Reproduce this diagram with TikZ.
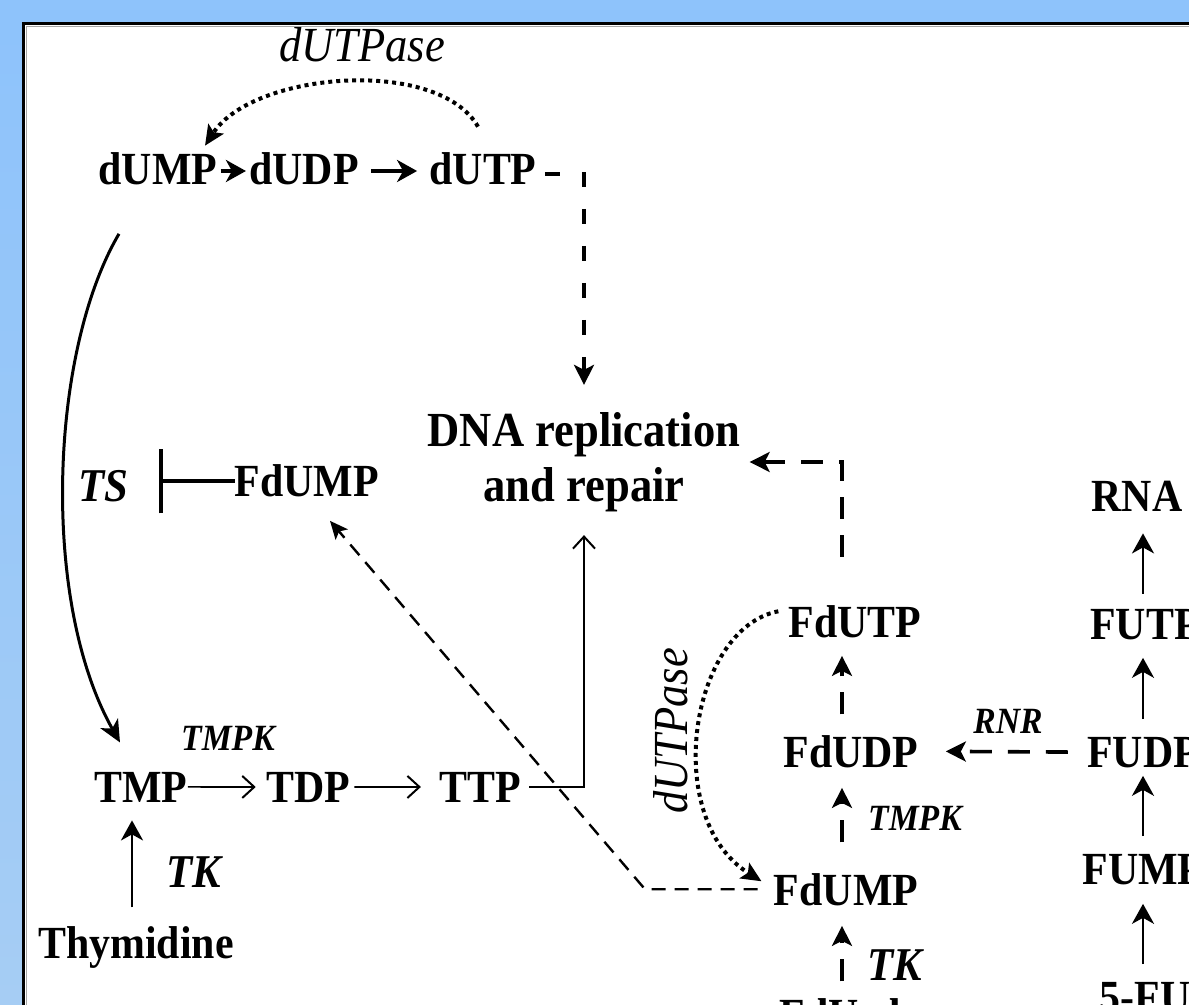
\documentclass[tikz,border=0pt]{standalone}
\usepackage{fontspec}
\setmainfont{Liberation Serif}[FakeStretch=0.91]
\usetikzlibrary{arrows.meta}
\definecolor{bgblue}{RGB}{142,195,251}
\definecolor{bgblueb}{RGB}{166,205,244}
\begin{document}
\begin{tikzpicture}[x=0.5pt,y=-0.5pt,
  lab/.style={font=\fontsize{23}{23}\selectfont\bfseries,inner sep=0pt,anchor=base},
  enz/.style={font=\fontsize{18.5}{18.5}\selectfont\bfseries\itshape,inner sep=0pt,anchor=base},
  enzb/.style={font=\fontsize{23.5}{23.5}\selectfont\bfseries\itshape,inner sep=0pt,anchor=base},
  ase/.style={font=\fontsize{24.5}{24.5}\selectfont\itshape,inner sep=0pt,anchor=base},
  uparr/.style={line width=1.4pt,-{Stealth[length=10pt,width=11pt,inset=3pt]}},
  thinarr/.style={line width=0.8pt,-{Straight Barb[length=6pt,width=11pt,line width=1pt]}},
  dsh/.style={line width=1.8pt,dash pattern=on 11pt off 8pt,-{Stealth[length=10pt,width=10pt,inset=2.5pt]}},
  dotarr/.style={line width=2pt,dash pattern=on 2pt off 2pt,-{Stealth[length=10pt,width=9pt,inset=2pt]}},
  fine/.style={line width=1.2pt,dash pattern=on 7pt off 4.5pt,-{Stealth[length=9pt,width=8pt,inset=2pt]}},
  rowarr/.style={line width=2pt,-{Stealth[length=10pt,width=11pt,inset=3pt]}},
  inhib/.style={line width=2pt,-{Bar[width=32pt]}}
]
\useasboundingbox (0,0) rectangle (1189,1005);
\clip (0,0) rectangle (1189,1005);
% background frame
\fill[bgblue] (0,0) rectangle (1189,1005);
\shade[top color=bgblue,bottom color=bgblueb] (0,24) rectangle (24,1005);
\fill[white] (24,24) rectangle (1200,1010);
\draw[gray!70,line width=0.6pt] (26.5,1010) -- (26.5,26.5) -- (1200,26.5);
\draw[line width=1.2pt] (23.5,1010) -- (23.5,23.5) -- (1200,23.5);

% nodes
\node[ase] (ase1) at (362,62) {dUTPase};
\node[lab] (dUMP) at (158,185) {dUMP};
\node[lab] (dUDP) at (304,185) {dUDP};
\node[lab] (dUTP) at (483,185) {dUTP};
\node[font=\fontsize{24.5}{27.5}\selectfont\bfseries,align=center,inner sep=0pt] (DNA) at (584,462) {DNA replication\\and repair};
\node[enzb] (TS) at (103,502) {TS};
\node[lab] (FdUMPl) at (307,497) {FdUMP};
\coordinate (TSbar) at (159,480);
\node[enz] (TMPK1) at (228,750) {TMPK};
\node[lab] (TMP) at (141,802) {TMP};
\node[lab] (TDP) at (308,802) {TDP};
\node[lab] (TTP) at (480,802) {TTP};
\node[enzb] (TK1) at (194,887) {TK};
\node[lab] (Thy) at (136,958) {Thymidine};
\node[lab] (FdUTP) at (855,637) {FdUTP};
\node[lab] (FdUDP) at (851,767) {FdUDP};
\node[lab] (FdUMPr) at (846,905) {FdUMP};
\node[lab] (FdUrd) at (840,1030) {FdUrd};
\node[enz] (TMPK2) at (915,830) {TMPK};
\node[enzb] (TK2) at (895,980) {TK};
\node[ase,rotate=90,anchor=center] (ase2) at (671,731) {dUTPase};
\node[enz] (RNR) at (1008,733) {RNR};
\node[lab] (RNA) at (1137,512) {RNA};
\node[lab] (FUTP) at (1145,639) {FUTP};
\node[lab] (FUDP) at (1143,767) {FUDP};
\node[lab] (FUMP) at (1143,884) {FUMP};
\node[lab] (FU) at (1145,1012) {5-FU};
\coordinate (dcorner) at (645,892);
\coordinate (colx) at (1143,0);

% top row
\draw[rowarr] ([shift={(3,-14)}]dUMP.base east) -- ([shift={(-3,-14)}]dUDP.base west);
\draw[rowarr] ([shift={(12,-14)}]dUDP.base east) -- ([shift={(-12,-14)}]dUTP.base west);
\draw[dsh,dash pattern=on 7.5pt off 11pt,shorten >=13.5pt] ([shift={(8,-11)}]dUTP.base east) -| (DNA.north);
\draw[dotarr] ([shift={(-5,-26)}]dUTP.north) .. controls +(-40,-70) and +(48,-74) .. ([shift={(47,-7)}]dUMP.north);

% left part
\draw[line width=1.5pt,-{Stealth[length=11pt,width=10pt,inset=3pt]}] ([shift={(-39,48)}]dUMP.south) .. controls +(-69,117) and +(-80,-142) .. ([shift={(-21,-29)}]TMP.north);
\draw[inhib] (FdUMPl.west) -- (FdUMPl.west -| TSbar);
\draw[thinarr,shorten >=5pt] (TMP.east) -- (TDP.west);
\draw[thinarr,shorten <=2pt,shorten >=9pt] (TDP.east) -- (TTP.west);
\draw[thinarr,shorten <=4pt,shorten >=11.5pt] (TTP.east) -| (DNA.south);
\draw[uparr,shorten <=9.2pt,shorten >=9pt] ([xshift=-2pt]Thy.north) -- ([xshift=-2pt]Thy.north |- TMP.south);

% middle right column
\draw[dsh,shorten <=10.2pt,shorten >=9pt] ([xshift=-4.5pt]FdUDP.north) -- ([xshift=-6.5pt]FdUTP.south);
\draw[dsh,shorten <=15.2pt,shorten >=10pt] ([xshift=-2pt]FdUMPr.north) -- ([xshift=-4.5pt]FdUDP.south);
\draw[dsh,shorten <=8.2pt,shorten >=10pt] ([xshift=1pt]FdUrd.north) -- ([xshift=-2pt]FdUMPr.south);
\draw[dsh,dash phase=11pt,shorten >=4.5pt] ([shift={(-13,-32)}]FdUTP.north) |- (DNA.east);
\draw[dsh,shorten <=9.5pt,shorten >=13.5pt] (FUDP.west) -- (FdUDP.east);
\draw[fine] ([xshift=-8pt]FdUMPr.west) -- (dcorner |- FdUMPr.west) -- ([shift={(23,23)}]FdUMPl.south);
\draw[dotarr] ([shift={(-10,-10)}]FdUTP.west) .. controls +(-88,17) and +(-101,-63) .. ([shift={(-12,-8)}]FdUMPr.west);

% RNA column
\draw[uparr,shorten <=7.3pt,shorten >=10.5pt] (FUTP.north -| colx) -- (RNA.south -| colx);
\draw[uparr,shorten <=8.7pt,shorten >=9pt] (FUDP.north -| colx) -- (FUTP.south -| colx);
\draw[uparr,shorten <=8.7pt,shorten >=4pt] (FUMP.north -| colx) -- (FUDP.south -| colx);
\draw[uparr,shorten <=8.7pt,shorten >=9.5pt] (FU.north -| colx) -- (FUMP.south -| colx);
\end{tikzpicture}
\end{document}
